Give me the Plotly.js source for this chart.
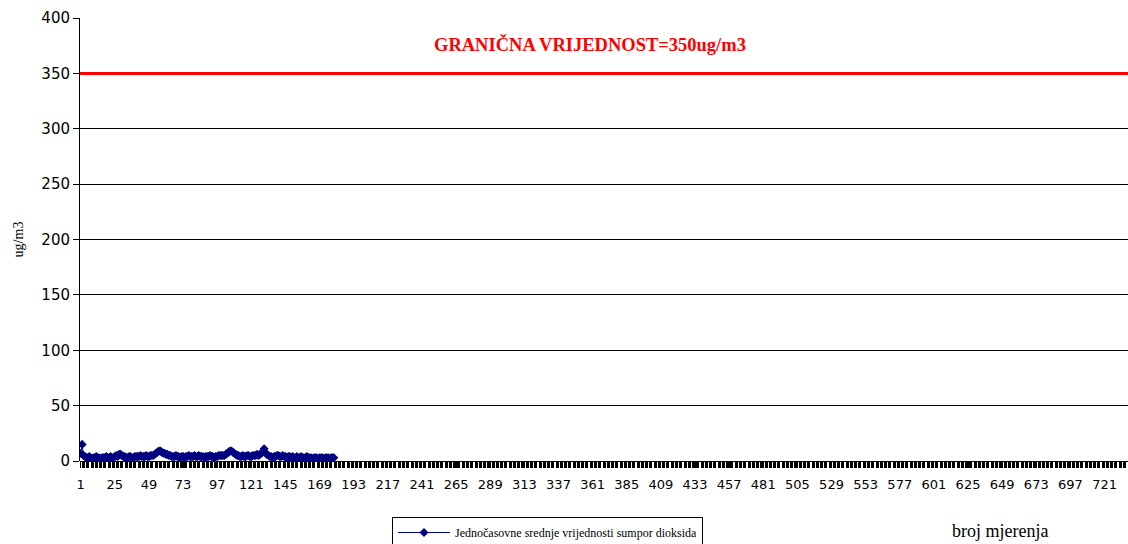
<!DOCTYPE html>
<html>
<head>
<meta charset="utf-8">
<script src="https://cdn.plot.ly/plotly-3.0.1.min.js"></script>
<style>
  html, body { margin: 0; padding: 0; background: #fff; }
  #graf { width: 1128px; height: 544px; }
</style>
</head>
<body>
<div id="graf"></div>
<script>
// ─────────────────────────────
// PODACI
// ─────────────────────────────
// jednočasovne srednje vrijednosti SO2 (ug/m3), po broju mjerenja
const so2 = [
  7, 15, 5, 4, 3, 3, 4, 3, 2, 3, 3, 4, 3, 3, 2, 3, 3, 3, 4, 3,
  3, 4, 3, 3, 4, 5, 4, 6, 6, 5, 4, 4, 3, 3, 4, 4, 3, 3, 4, 4,
  4, 4, 5, 4, 4, 4, 5, 4, 4, 5, 5, 5, 6, 7, 8, 9, 9, 8, 7, 7,
  6, 6, 5, 5, 4, 4, 4, 5, 4, 4, 3, 4, 4, 3, 4, 4, 5, 4, 4, 4,
  5, 4, 4, 5, 4, 4, 4, 3, 4, 4, 4, 5, 4, 4, 3, 4, 4, 5, 5, 5,
  5, 5, 6, 7, 8, 9, 9, 8, 7, 6, 5, 5, 4, 4, 5, 4, 4, 5, 5, 4,
  4, 5, 5, 5, 6, 5, 6, 7, 8, 11, 7, 6, 5, 4, 4, 3, 4, 4, 5, 5,
  4, 4, 5, 4, 4, 3, 4, 4, 3, 4, 3, 3, 4, 3, 3, 4, 3, 3, 3, 4,
  3, 3, 3, 2, 3, 3, 3, 2, 3, 3, 3, 2, 3, 3, 3, 2, 3, 3, 3
];
const brojMjerenja = so2.map((_, i) => i + 1);

const GRANICA = 350;
const UKUPNO_MJERENJA = 737;

const nazivSerije = 'Jednočasovne srednje vrijednosti sumpor dioksida';
const tekstGranice = 'GRANIČNA VRIJEDNOST=350ug/m3';


// ─────────────────────────────
// GRAF
// ─────────────────────────────
const trace = {
  x: brojMjerenja,
  y: so2,
  name: nazivSerije,
  type: 'scatter',
  mode: 'lines+markers',
  line: { color: '#000080', width: 1 },
  marker: { symbol: 'diamond', size: 7, color: '#000080' },
  showlegend: true
};

const layout = {
  width: 1128,
  height: 544,
  margin: { l: 80, r: 0, t: 18, b: 83 },
  paper_bgcolor: '#fff',
  plot_bgcolor: '#fff',
  showlegend: true,
  xaxis: {
    range: [0.5, UKUPNO_MJERENJA + 0.5],
    tick0: 1,
    dtick: 24,
    ticks: 'outside',
    ticklen: 6,
    tickwidth: 1,
    tickcolor: '#000',
    ticklabelstandoff: 5,
    minor: { dtick: 3, ticks: 'outside', ticklen: 6, tickwidth: 3, tickcolor: '#000', showgrid: false },
    showgrid: false,
    zeroline: false,
    showline: false,
    tickfont: { family: 'DejaVu Sans', size: 13, color: '#000' }
  },
  yaxis: {
    range: [0, 400],
    dtick: 50,
    ticks: 'outside',
    ticklen: 6,
    tickcolor: '#000',
    showgrid: true,
    gridcolor: '#000',
    gridwidth: 1,
    showline: true,
    linecolor: '#000',
    zeroline: true,
    zerolinecolor: '#000',
    tickfont: { family: 'DejaVu Sans', size: 15, color: '#000' },
    title: { text: 'ug/m3', font: { family: 'Liberation Serif', size: 14, color: '#000' }, standoff: 14 }
  },
  shapes: [{
    type: 'line', xref: 'paper', yref: 'y',
    x0: 0, x1: 1, y0: GRANICA, y1: GRANICA,
    line: { color: '#ff0000', width: 3 }
  }],
  annotations: [
    {
      text: '<b>' + tekstGranice + '</b>',
      xref: 'paper', yref: 'paper',
      x: (590 - 80) / 1048, y: (461 - 44) / 443,
      xanchor: 'center', yanchor: 'middle',
      showarrow: false,
      font: { family: 'Liberation Serif', size: 18.5, color: '#ff0000' }
    },
    {
      text: 'broj mjerenja',
      xref: 'paper', yref: 'paper',
      x: (1000 - 80) / 1048, y: (461 - 531) / 443,
      xanchor: 'center', yanchor: 'middle',
      showarrow: false,
      font: { family: 'Liberation Serif', size: 18, color: '#000' }
    }
  ],
  legend: {
    x: (392 - 80) / 1048,
    yref: 'container',
    y: (544 - 517) / 544,
    xanchor: 'left',
    yanchor: 'top',
    bordercolor: '#000',
    borderwidth: 1,
    bgcolor: '#fff',
    itemwidth: 52,
    font: { family: 'Liberation Serif', size: 12, color: '#000' }
  }
};

Plotly.newPlot('graf', [trace], layout, { displayModeBar: false, staticPlot: true });
</script>
</body>
</html>
